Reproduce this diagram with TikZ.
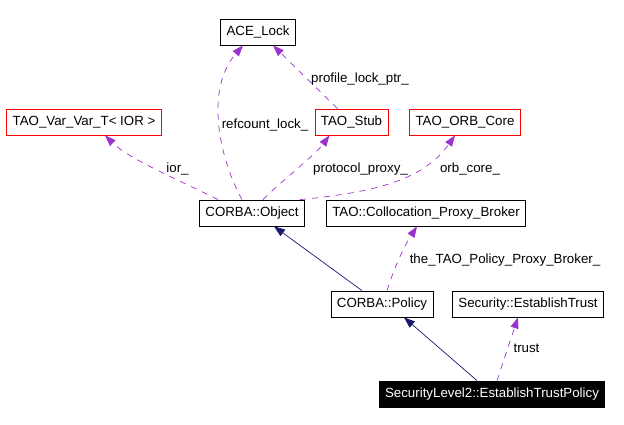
\documentclass[tikz,border=0pt]{standalone}
\usepackage{fontspec}
\setmainfont{Liberation Sans}
\usetikzlibrary{arrows.meta}
\definecolor{edgepurple}{HTML}{9A32CD}
\definecolor{edgenavy}{HTML}{191970}
\begin{document}
\begin{tikzpicture}[x=1pt,y=-1pt,
  font=\fontsize{13.3}{15}\selectfont,
  box/.style={draw,line width=0.8pt,inner xsep=6pt,inner ysep=0pt,minimum height=26pt,fill=white},
  blackbox/.style={box,fill=black,text=white,inner xsep=5.5pt},
  uses/.style={draw=edgepurple,line width=0.7pt,dash pattern=on 6pt off 6pt,
    -{Triangle[length=11pt,width=8pt]}},
  inherit/.style={draw=edgenavy,line width=0.7pt,-{Triangle[length=11pt,width=8pt]}},
  lbl/.style={inner sep=0pt,anchor=base}]
\useasboundingbox (0,0) rectangle (624,424);
\fill[white] (0,0) rectangle (624,424);
% nodes
\node[box,draw=black] (ace) at (258,32) {ACE\_Lock};
\node[box,draw=red] (var) at (84,122) {TAO\_Var\_Var\_T< IOR >};
\node[box,draw=red] (stub) at (351.5,122) {TAO\_Stub};
\node[box,draw=red] (orb) at (465,122) {TAO\_ORB\_Core};
\node[box,draw=black] (obj) at (252,213) {CORBA::Object};
\node[box,draw=black] (coll) at (426,213) {TAO::Collocation\_Proxy\_Broker};
\node[box,draw=black] (pol) at (382,304) {CORBA::Policy};
\node[box,draw=black] (est) at (528,304) {Security::EstablishTrust};
\node[blackbox,draw=black] (etp) at (492,394) {SecurityLevel2::EstablishTrustPolicy};
% uses edges
\draw[uses] ([xshift=-10pt]obj.north) .. controls (220,160) and (204,90) .. ([xshift=-15pt]ace.south);
\draw[uses] ([xshift=-14pt]stub.north) -- ([xshift=15pt]ace.south);
\draw[uses] ([xshift=-34pt]obj.north) .. controls (190,185) and (130,160) .. ([xshift=21pt]var.south);
\draw[uses] ([xshift=11pt]obj.north) .. controls (285,178) and (315,155) .. ([xshift=-22pt]stub.south);
\draw[uses] ([xshift=48pt]obj.north) .. controls (380,192) and (425,178) .. ([xshift=-10pt]orb.south);
\draw[uses] ([xshift=5pt]pol.north) .. controls (395,265) and (405,245) .. ([xshift=-9pt]coll.south);
\draw[uses] ([xshift=5pt]etp.north) -- ([xshift=-10pt]est.south);
% inheritance edges
\draw[inherit] ([xshift=-20pt]pol.north) -- ([xshift=22pt]obj.south);
\draw[inherit] ([xshift=-15pt]etp.north) -- ([xshift=22pt]pol.south);
% labels
\node[lbl] (l1) at (265,128) {refcount\_lock\_};
\node[lbl] (l2) at (360,82) {profile\_lock\_ptr\_};
\node[lbl] (l3) at (177.5,172) {ior\_};
\node[lbl] (l4) at (360.5,172) {protocol\_proxy\_};
\node[lbl] (l5) at (470,172) {orb\_core\_};
\node[lbl] (l6) at (505,263) {the\_TAO\_Policy\_Proxy\_Broker\_};
\node[lbl] (l7) at (526.5,352) {trust};
\end{tikzpicture}
\end{document}
